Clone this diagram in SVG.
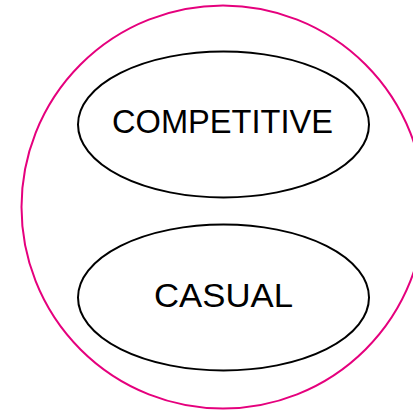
<svg xmlns="http://www.w3.org/2000/svg" width="413" height="411" viewBox="0 0 413 411">
<style>
.n{fill:none;stroke:#000;stroke-width:2}
.t{font-family:"Liberation Sans",Arial,sans-serif;font-size:34px;fill:#000;text-anchor:middle}
</style>
<rect width="413" height="411" fill="#fff"/>
<g id="outer"><circle cx="223" cy="207" r="201.5" fill="none" stroke="#e5007d" stroke-width="2"/></g>
<g id="competitive"><ellipse class="n" cx="223.5" cy="124.5" rx="145.5" ry="73"/><text class="t" x="222.5" y="133" textLength="221" lengthAdjust="spacingAndGlyphs">COMPETITIVE</text></g>
<g id="casual"><ellipse class="n" cx="223.5" cy="297.5" rx="145.5" ry="73"/><text class="t" x="223.5" y="307" textLength="139" lengthAdjust="spacingAndGlyphs">CASUAL</text></g>
<g id="connectors"/>
</svg>
